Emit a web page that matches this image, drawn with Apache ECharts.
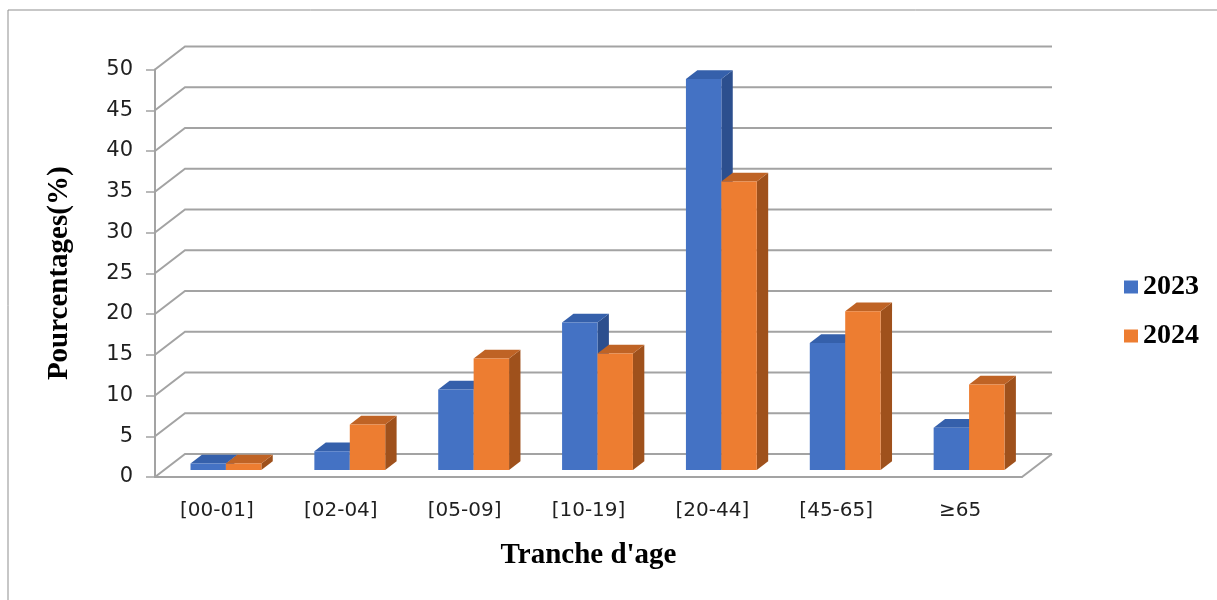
<!DOCTYPE html>
<html>
<head>
<meta charset="utf-8">
<style>
  html, body { margin: 0; padding: 0; background: #ffffff; }
  #chart { width: 1217px; height: 600px; }
</style>
<script src="https://cdn.jsdelivr.net/npm/echarts@6/dist/echarts.min.js"></script>
</head>
<body>
<div id="chart"></div>
<script>
// Age groups and the share of cases (%) per year
const categories = ['[00-01]', '[02-04]', '[05-09]', '[10-19]', '[20-44]', '[45-65]', '≥65'];
const values2023 = [0.8, 2.3, 9.9, 18.1, 48.0, 15.6, 5.2];
const values2024 = [0.8, 5.6, 13.7, 14.3, 35.4, 19.5, 10.5];
const yTicks = [0, 5, 10, 15, 20, 25, 30, 35, 40, 45, 50];

// Oblique projection of the chart depth (pixels from the front plane to the back wall)
const DEPTH_X = 30;
const DEPTH_Y = -23;
// Bars sit between these fractions of the depth
const BAR_FRONT = 0.3;
const BAR_BACK = 0.68;
// Each bar takes this fraction of a category band
const BAR_FRACTION = 0.286;

const GRID_COLOR = '#a3a3a3';

const palette = {
  '2023': { front: '#4472c4', top: '#3560ab', side: '#2c4f8e' },
  '2024': { front: '#ed7d31', top: '#bf6325', side: '#9f511c' }
};

// Back-wall gridlines with their left-side return to the front axis
function renderGridline(params, api) {
  const cs = params.coordSys;
  const v = api.value(1);
  const y = api.coord([0, v])[1];
  const x0 = cs.x;
  const x1 = cs.x + cs.width;
  const children = [{
    type: 'polyline',
    shape: { points: [[x0, y], [x0 + DEPTH_X, y + DEPTH_Y], [x1 + DEPTH_X, y + DEPTH_Y]] },
    style: { stroke: GRID_COLOR, lineWidth: 2, fill: null }
  }];
  if (v === 0) {
    // right edge of the floor
    children.push({
      type: 'line',
      shape: { x1: x1, y1: y, x2: x1 + DEPTH_X, y2: y + DEPTH_Y },
      style: { stroke: GRID_COLOR, lineWidth: 2 }
    });
  }
  return { type: 'group', children: children };
}

// A 3D-looking column: front face, top face and right side face
function makeBarRenderer(slot, colors) {
  return function (params, api) {
    const i = api.value(0);
    const v = api.value(1);
    const base = api.coord([i, 0]);
    const topPt = api.coord([i, v]);
    const band = api.size([1, 0])[0];
    const bw = band * BAR_FRACTION;
    const cx = base[0] + BAR_FRONT * DEPTH_X;
    const yBase = base[1] + BAR_FRONT * DEPTH_Y;
    const yTop = topPt[1] + BAR_FRONT * DEPTH_Y;
    const xl = cx + slot * bw;
    const xr = xl + bw;
    const ddx = (BAR_BACK - BAR_FRONT) * DEPTH_X;
    const ddy = (BAR_BACK - BAR_FRONT) * DEPTH_Y;
    return {
      type: 'group',
      children: [
        {
          type: 'polygon',
          shape: { points: [[xr, yTop], [xr + ddx, yTop + ddy], [xr + ddx, yBase + ddy], [xr, yBase]] },
          style: { fill: colors.side }
        },
        {
          type: 'polygon',
          shape: { points: [[xl, yTop], [xr, yTop], [xr + ddx, yTop + ddy], [xl + ddx, yTop + ddy]] },
          style: { fill: colors.top }
        },
        {
          type: 'rect',
          shape: { x: xl, y: yTop, width: bw, height: yBase - yTop },
          style: { fill: colors.front }
        }
      ]
    };
  };
}

const chart = echarts.init(document.getElementById('chart'), null, { renderer: 'canvas' });

chart.setOption({
  backgroundColor: '#ffffff',
  animation: false,
  graphic: [{
    type: 'rect',
    shape: { x: 8, y: 10, width: 1220, height: 610 },
    style: { fill: null, stroke: '#8f8f8f', lineWidth: 1 },
    z: -10
  }],
  grid: { left: 155, right: 195, top: 69.5, bottom: 123 },
  legend: {
    orient: 'vertical',
    left: 1119,
    top: 268,
    itemWidth: 14,
    itemHeight: 13,
    itemGap: 21,
    icon: 'rect',
    data: ['2023', '2024'],
    textStyle: {
      fontFamily: 'Liberation Serif',
      fontWeight: 'bold',
      fontSize: 28,
      lineHeight: 28,
      color: '#000000'
    }
  },
  xAxis: {
    type: 'category',
    data: categories,
    name: "Tranche d'age",
    nameLocation: 'middle',
    nameGap: 64,
    nameTextStyle: {
      fontFamily: 'Liberation Serif',
      fontWeight: 'bold',
      fontSize: 29,
      color: '#000000'
    },
    axisLine: { show: true, lineStyle: { color: GRID_COLOR, width: 2 } },
    axisTick: { show: false },
    axisLabel: {
      margin: 24,
      fontFamily: 'DejaVu Sans',
      fontSize: 20,
      color: '#1f1f1f'
    },
    splitLine: { show: false }
  },
  yAxis: {
    type: 'value',
    min: 0,
    max: 50,
    interval: 5,
    name: 'Pourcentages(%)',
    nameLocation: 'middle',
    nameGap: 81,
    nameRotate: 90,
    nameTextStyle: {
      fontFamily: 'Liberation Serif',
      fontWeight: 'bold',
      fontSize: 29,
      color: '#000000'
    },
    axisLine: { show: true, lineStyle: { color: GRID_COLOR, width: 2 } },
    axisTick: { show: true, length: 9, lineStyle: { color: GRID_COLOR, width: 1.5 } },
    axisLabel: {
      margin: 22,
      padding: [6, 0, 0, 0],
      fontFamily: 'DejaVu Sans',
      fontSize: 21,
      color: '#1f1f1f'
    },
    splitLine: { show: false }
  },
  series: [
    {
      name: 'gridlines',
      type: 'custom',
      z: 1,
      silent: true,
      renderItem: renderGridline,
      data: yTicks.map(function (v) { return [0, v]; })
    },
    {
      name: '2023',
      type: 'custom',
      z: 2,
      itemStyle: { color: palette['2023'].front },
      renderItem: makeBarRenderer(-1, palette['2023']),
      data: values2023.map(function (v, i) { return [i, v]; })
    },
    {
      name: '2024',
      type: 'custom',
      z: 3,
      itemStyle: { color: palette['2024'].front },
      renderItem: makeBarRenderer(0, palette['2024']),
      data: values2024.map(function (v, i) { return [i, v]; })
    }
  ]
});
</script>
</body>
</html>
